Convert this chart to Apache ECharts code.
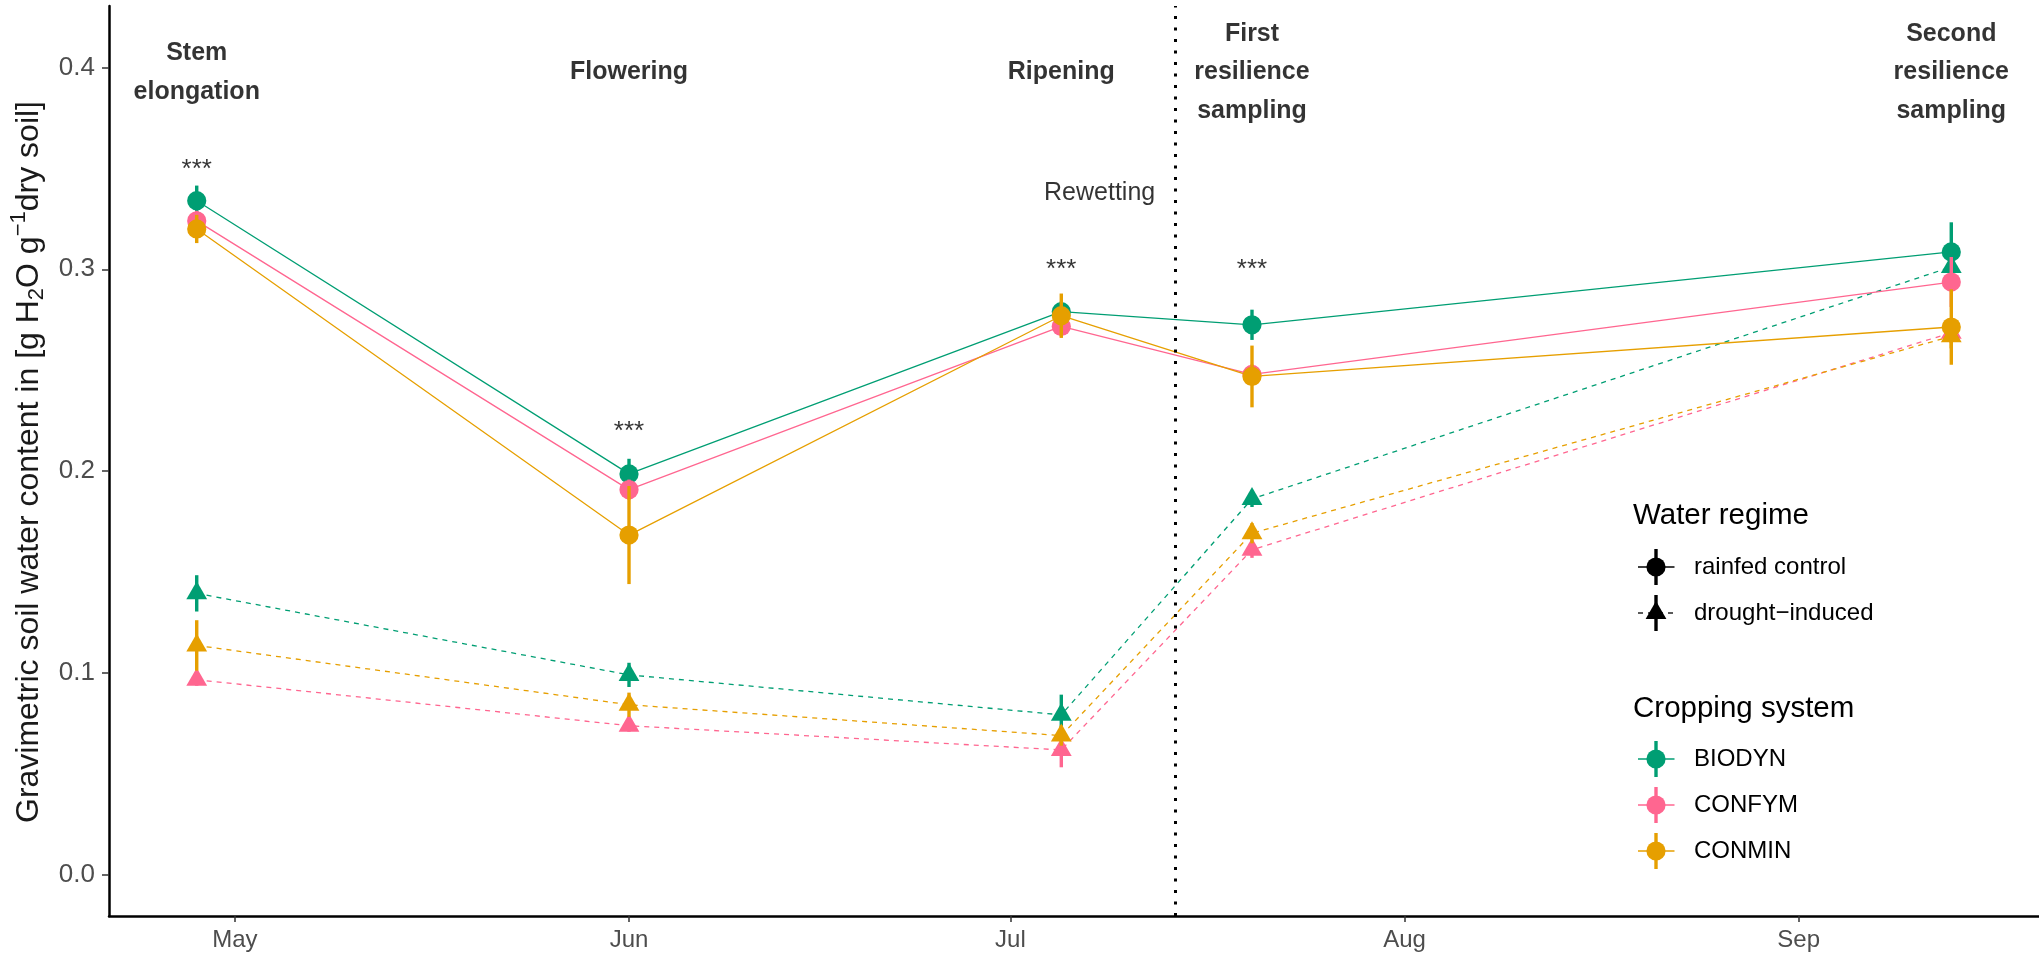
<!DOCTYPE html>
<html>
<head>
<meta charset="utf-8">
<script src="https://cdn.jsdelivr.net/npm/echarts@6/dist/echarts.min.js"></script>
<style>
  html, body { margin: 0; padding: 0; background: #ffffff; }
  #chart { width: 2039px; height: 963px; }
</style>
</head>
<body>
<div id="chart"></div>
<script>
// Sampling campaigns and crop phases
const sampleDates = ['2021-04-28', '2021-06-01', '2021-07-05', '2021-07-20', '2021-09-13'];
const phaseLabels = ['Stem\nelongation', 'Flowering', 'Ripening', 'First\nresilience\nsampling', 'Second\nresilience\nsampling'];
const rewettingDate = '2021-07-14';

// Month ticks on the time axis
const monthTicks = ['2021-05-01', '2021-06-01', '2021-07-01', '2021-08-01', '2021-09-01'];
const monthLabels = ['May', 'Jun', 'Jul', 'Aug', 'Sep'];
const yTicks = [0, 0.1, 0.2, 0.3, 0.4];

// Cropping systems
const systems = ['BIODYN', 'CONFYM', 'CONMIN'];
const systemColors = ['#009E73', '#FF6690', '#E69F00'];
const regimes = ['rainfed control', 'drought\u2212induced'];

// Mean gravimetric water content, rainfed control
const rainfedBiodyn = [0.334, 0.1986, 0.279, 0.2725, 0.3086];
const rainfedConfym = [0.324, 0.1908, 0.2717, 0.2479, 0.2937];
const rainfedConmin = [0.320, 0.1683, 0.2770, 0.2469, 0.2714];
// Standard errors, rainfed control
const rainfedBiodynSe = [0.0075, 0.0075, 0.005, 0.0075, 0.0147];
const rainfedConfymSe = [0.005, 0.005, 0.005, 0.005, 0.0124];
const rainfedConminSe = [0.007, 0.0243, 0.011, 0.0153, 0.0187];

// Mean gravimetric water content, drought-induced
const droughtBiodyn = [0.1394, 0.0990, 0.0792, 0.1862, 0.3012];
const droughtConfym = [0.0966, 0.0738, 0.0618, 0.1610, 0.2686];
const droughtConmin = [0.1136, 0.0842, 0.0689, 0.1692, 0.2668];
// Standard errors, drought-induced
const droughtBiodynSe = [0.009, 0.006, 0.010, 0.004, 0.004];
const droughtConfymSe = [0.003, 0.003, 0.0086, 0.004, 0.005];
const droughtConminSe = [0.0125, 0.006, 0.005, 0.005, 0.006];

// Significance of the cropping-system effect per sampling
const significance = ['***', '***', '***', '***', ''];
const significanceY = [0.35, 0.22, 0.30, 0.30, null];

const FONT = '"Liberation Sans", Arial, Helvetica, sans-serif';

function dayOfYear(s) {
  const d = new Date(s + 'T00:00:00Z');
  return Math.round((d - Date.UTC(d.getUTCFullYear(), 0, 1)) / 86400000) + 1;
}

const sampleDays = sampleDates.map(dayOfYear);
const monthDays = monthTicks.map(dayOfYear);
const rewettingDay = dayOfYear(rewettingDate);
const span = sampleDays[sampleDays.length - 1] - sampleDays[0];
const xMin = sampleDays[0] - 0.05 * span;
const xMax = sampleDays[sampleDays.length - 1] + 0.05 * span;
const yMin = -0.0205;
const yMax = 0.4305;

const means = [
  [droughtBiodyn, droughtConfym, droughtConmin],
  [rainfedBiodyn, rainfedConfym, rainfedConmin]
];
const errors = [
  [droughtBiodynSe, droughtConfymSe, droughtConminSe],
  [rainfedBiodynSe, rainfedConfymSe, rainfedConminSe]
];
// regime index in "means": 0 = drought, 1 = rainfed
const regimeOfRow = [1, 0];

const CIRCLE_R = 9.6;
const TRI_R = 12;
const BAR_W = 3.4;

function trianglePoints(cx, cy, r) {
  return [[cx, cy - r], [cx + r * 0.866, cy + r / 2], [cx - r * 0.866, cy + r / 2]];
}

const series = [];

// connecting lines underneath the point ranges
means.forEach((rows, ri) => {
  rows.forEach((vals, si) => {
    series.push({
      type: 'line',
      name: systems[si] + ' ' + regimes[regimeOfRow[ri]],
      data: sampleDays.map((d, i) => [d, vals[i]]),
      showSymbol: false,
      silent: true,
      z: 2,
      lineStyle: {
        color: systemColors[si],
        width: 1.3,
        type: ri === 1 ? 'solid' : [5, 5]
      }
    });
  });
});

// point ranges: mean +/- standard error
means.forEach((rows, ri) => {
  rows.forEach((vals, si) => {
    const color = systemColors[si];
    const isDrought = ri === 0;
    series.push({
      type: 'custom',
      name: systems[si] + ' ' + regimes[regimeOfRow[ri]] + ' range',
      silent: true,
      z: 3,
      encode: { x: 0, y: 1 },
      data: sampleDays.map((d, i) => [d, vals[i], errors[ri][si][i]]),
      renderItem: function (params, api) {
        const x = api.value(0), m = api.value(1), s = api.value(2);
        const c = api.coord([x, m]);
        const hi = api.coord([x, m + s]);
        const lo = api.coord([x, m - s]);
        const children = [{
          type: 'rect',
          shape: { x: c[0] - BAR_W / 2, y: hi[1], width: BAR_W, height: lo[1] - hi[1] },
          style: { fill: color }
        }];
        if (isDrought) {
          children.push({ type: 'polygon', shape: { points: trianglePoints(c[0], c[1], TRI_R) }, style: { fill: color } });
        } else {
          children.push({ type: 'circle', shape: { cx: c[0], cy: c[1], r: CIRCLE_R }, style: { fill: color } });
        }
        return { type: 'group', children: children };
      }
    });
  });
});

// crop phase headings
series.push({
  type: 'scatter',
  silent: true,
  symbolSize: 1,
  itemStyle: { color: 'transparent' },
  z: 5,
  data: sampleDays.map((d, i) => ({
    value: [d, 0.4],
    label: { formatter: phaseLabels[i] }
  })),
  label: {
    show: true,
    position: 'inside',
    offset: [0, 5],
    color: '#000',
    fontFamily: FONT,
    fontWeight: 'bold',
    fontSize: 25,
    lineHeight: 38.5,
    align: 'center'
  }
});

// significance stars
series.push({
  type: 'scatter',
  silent: true,
  symbolSize: 1,
  itemStyle: { color: 'transparent' },
  z: 5,
  data: sampleDays
    .map((d, i) => ({ value: [d, significanceY[i]], label: { formatter: significance[i] } }))
    .filter((p, i) => significance[i] !== ''),
  label: {
    show: true,
    position: 'inside',
    offset: [0, 1],
    color: '#000',
    fontFamily: FONT,
    fontSize: 26
  }
});

// rewetting marker
series.push({
  type: 'scatter',
  silent: true,
  symbolSize: 1,
  itemStyle: { color: 'transparent' },
  z: 5,
  data: [{ value: [rewettingDay, 0.338] }],
  label: {
    show: true,
    position: 'left',
    distance: 20,
    formatter: 'Rewetting',
    color: '#000',
    fontFamily: FONT,
    fontSize: 25
  },
  markLine: {
    silent: true,
    symbol: ['none', 'none'],
    label: { show: false },
    lineStyle: { color: '#000', width: 3, type: [3, 8.5] },
    data: [{ xAxis: rewettingDay }]
  }
});

// legend
const LEG_X = 1656;
const legendChildren = [];
function legendTitle(text, y) {
  legendChildren.push({
    type: 'text', x: 1633, y: y,
    style: { text: text, font: '29.5px ' + FONT, fill: '#000', align: 'left', verticalAlign: 'middle' }
  });
}
function legendKey(y, color, shape, dashed, label) {
  if (dashed) {
    for (let k = 0; k < 4; k++) {
      legendChildren.push({ type: 'rect', shape: { x: 1638 + k * 10, y: y - 0.65, width: 5, height: 1.3 }, style: { fill: color } });
    }
  } else {
    legendChildren.push({ type: 'rect', shape: { x: 1638, y: y - 0.65, width: 36.5, height: 1.3 }, style: { fill: color } });
  }
  legendChildren.push({ type: 'rect', shape: { x: LEG_X - BAR_W / 2, y: y - 18, width: BAR_W, height: 36 }, style: { fill: color } });
  if (shape === 'triangle') {
    legendChildren.push({ type: 'polygon', shape: { points: trianglePoints(LEG_X, y, TRI_R) }, style: { fill: color } });
  } else {
    legendChildren.push({ type: 'circle', shape: { cx: LEG_X, cy: y, r: CIRCLE_R }, style: { fill: color } });
  }
  legendChildren.push({
    type: 'text', x: 1694, y: y,
    style: { text: label, font: '24px ' + FONT, fill: '#000', align: 'left', verticalAlign: 'middle' }
  });
}
legendTitle('Water regime', 516);
legendKey(567, '#000', 'circle', false, regimes[0]);
legendKey(613, '#000', 'triangle', true, regimes[1]);
legendTitle('Cropping system', 709);
systems.forEach((s, i) => legendKey(759 + i * 46, systemColors[i], 'circle', false, s));

const option = {
  animation: false,
  backgroundColor: '#ffffff',
  grid: { left: 109, right: -6, top: 6, bottom: 47, containLabel: false },
  xAxis: {
    type: 'value',
    min: xMin,
    max: xMax,
    splitLine: { show: false },
    axisLine: { show: true, onZero: false, lineStyle: { color: '#000', width: 2.5 } },
    axisTick: { show: true, customValues: monthDays, length: 6, lineStyle: { color: '#333', width: 1.5 } },
    axisLabel: {
      customValues: monthDays,
      margin: 12,
      color: '#4D4D4D',
      fontFamily: FONT,
      fontSize: 24,
      formatter: function (v) {
        const i = monthDays.indexOf(Math.round(v));
        return i >= 0 ? monthLabels[i] : '';
      }
    }
  },
  yAxis: {
    type: 'value',
    min: yMin,
    max: yMax,
    splitLine: { show: false },
    axisLine: { show: true, onZero: false, lineStyle: { color: '#000', width: 2.5 } },
    axisTick: { show: true, customValues: yTicks, length: 7, lineStyle: { color: '#333', width: 1.5 } },
    axisLabel: {
      customValues: yTicks,
      margin: 14,
      color: '#4D4D4D',
      fontFamily: FONT,
      fontSize: 26,
      formatter: function (v) { return v.toFixed(1); }
    }
  },
  graphic: [
    {
      type: 'text',
      x: 29,
      y: 462,
      rotation: Math.PI / 2,
      silent: true,
      style: {
        text: 'Gravimetric soil water content in [g H{sub|2}O g{sup|\u22121}dry soil]',
        font: '32px ' + FONT,
        fill: '#1a1a1a',
        align: 'center',
        verticalAlign: 'middle',
        rich: {
          sub: { fontSize: 22, fontFamily: FONT, padding: [15, 0, 0, 0] },
          sup: { fontSize: 22, fontFamily: FONT, padding: [0, 0, 21, 0] }
        }
      }
    },
    { type: 'group', silent: true, children: legendChildren }
  ],
  series: series
};

const chart = echarts.init(document.getElementById('chart'), null, { renderer: 'canvas' });
chart.setOption(option);
</script>
</body>
</html>
